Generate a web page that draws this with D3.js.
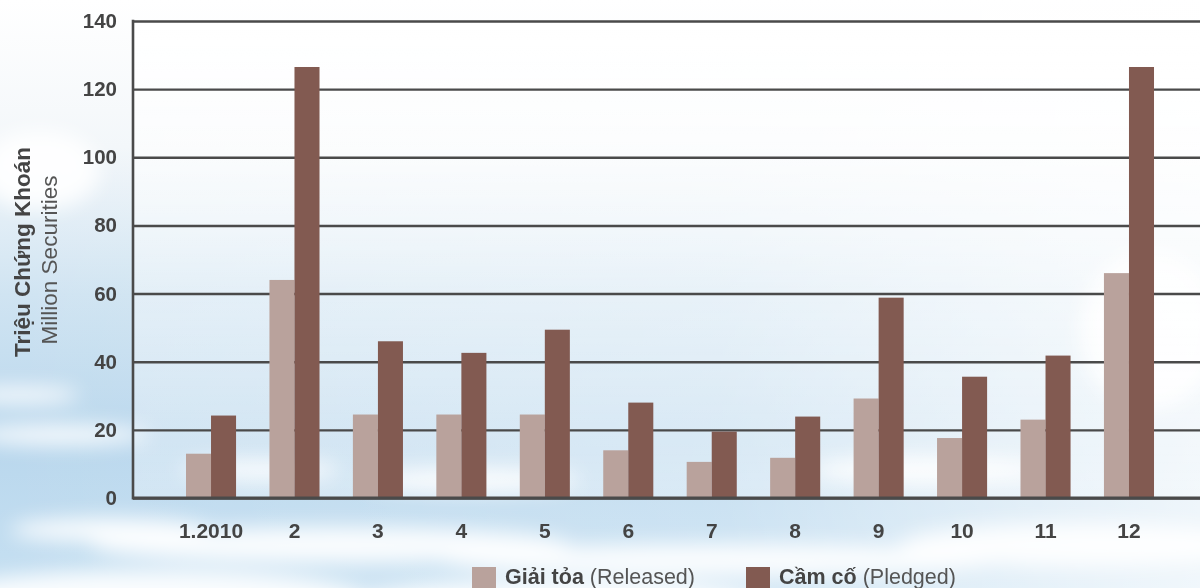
<!DOCTYPE html>
<html><head><meta charset="utf-8">
<script src="https://cdn.jsdelivr.net/npm/d3@7"></script>
<style>html,body{margin:0;padding:0;overflow:hidden;background:#fff}</style>
</head><body>
<svg id="c" width="1200" height="588"></svg>
<script>
const months = ["1.2010","2","3","4","5","6","7","8","9","10","11","12"];
const released = [13, 64, 24.5, 24.5, 24.5, 14, 10.6, 11.8, 29.2, 17.6, 23, 66];
const pledged = [24.2, 126.5, 46, 42.6, 49.4, 28, 19.5, 23.9, 58.8, 35.6, 41.8, 126.5];
const yTicks = [0, 20, 40, 60, 80, 100, 120, 140];
const seriesNames = [["Giải tỏa", " (Released)"], ["Cầm cố", " (Pledged)"]];
const colors = ["#b9a29c", "#825a51"];

const svg = d3.select("#c");
const W = 1200, H = 588;
const font = "'Liberation Sans', Arial, sans-serif";

// background sky
const defs = svg.append("defs");
const sky = defs.append("linearGradient").attr("id","sky").attr("x1",0).attr("y1",0).attr("x2",0).attr("y2",1);
sky.append("stop").attr("offset","0%").attr("stop-color","#ffffff");
sky.append("stop").attr("offset","25%").attr("stop-color","#f3f7fa");
sky.append("stop").attr("offset","50%").attr("stop-color","#d0e4f2");
sky.append("stop").attr("offset","75%").attr("stop-color","#b9d7ed");
sky.append("stop").attr("offset","100%").attr("stop-color","#c6e0f2");
const blur = defs.append("filter").attr("id","blur").attr("x","-50%").attr("y","-50%").attr("width","200%").attr("height","200%");
blur.append("feGaussianBlur").attr("stdDeviation", 10);
const rightFade = defs.append("linearGradient").attr("id","rf").attr("x1",0).attr("y1",0).attr("x2",1).attr("y2",0);
rightFade.append("stop").attr("offset","0%").attr("stop-color","#fff").attr("stop-opacity",0);
rightFade.append("stop").attr("offset","60%").attr("stop-color","#fff").attr("stop-opacity",0.2);
rightFade.append("stop").attr("offset","100%").attr("stop-color","#fff").attr("stop-opacity",0.75);
svg.append("rect").attr("width",W).attr("height",H).attr("fill","url(#sky)");
svg.append("rect").attr("width",W).attr("height",H).attr("fill","url(#rf)");
const clouds = [[60,435,90,10],[20,395,60,8],[330,545,240,18],[720,560,280,16],[1080,545,180,22],[150,600,220,30],[560,600,200,20],[930,470,120,14],[470,480,110,12],[1150,330,70,80],[40,170,60,40],[260,470,80,10],[110,530,100,12]];
svg.append("g").attr("filter","url(#blur)").selectAll("ellipse").data(clouds).join("ellipse")
  .attr("cx",d=>d[0]).attr("cy",d=>d[1]).attr("rx",d=>d[2]).attr("ry",d=>d[3])
  .attr("fill","#ffffff").attr("opacity",0.9);

const x0 = 133, x1 = 1200, yTop = 21, yBot = 498;
const y = d3.scaleLinear().domain([0,140]).range([yBot, yTop]);
const x = d3.scaleBand().domain(months).range([169.3, 1170.7]).paddingInner(0.4).paddingOuter(0.2);
const xs = d3.scaleBand().domain([0,1]).range([0, x.bandwidth()]);

// plot area light wash
const wash = defs.append("linearGradient").attr("id","wash").attr("x1",0).attr("y1",0).attr("x2",0).attr("y2",1);
wash.append("stop").attr("offset","0%").attr("stop-color","#fff").attr("stop-opacity",0.85);
wash.append("stop").attr("offset","55%").attr("stop-color","#fff").attr("stop-opacity",0.4);
wash.append("stop").attr("offset","100%").attr("stop-color","#fff").attr("stop-opacity",0.3);
svg.append("rect").attr("x",x0).attr("y",yTop).attr("width",x1-x0).attr("height",yBot-yTop)
  .attr("fill","url(#wash)");

// grid lines
const yAxis = d3.axisLeft(y).tickValues(yTicks).tickSize(-(x1-x0)).tickPadding(16).tickFormat(d3.format("d"));
const ga = svg.append("g").attr("transform",`translate(${x0},0)`).call(yAxis);
ga.select(".domain").remove();
ga.selectAll(".tick line").attr("stroke","#4a4a4a").attr("stroke-width",2.4);
ga.selectAll(".tick text").attr("fill","#444").attr("font-family",font).attr("font-weight","bold").attr("font-size",20.5);

// bars
const groups = svg.append("g").selectAll("g").data(months).join("g")
  .attr("transform",d=>`translate(${x(d)},0)`);
groups.selectAll("rect").data((d,i)=>[released[i], pledged[i]]).join("rect")
  .attr("x",(d,j)=>xs(j)).attr("width",xs.bandwidth())
  .attr("y",d=>y(d)).attr("height",d=>yBot-y(d))
  .attr("fill",(d,j)=>colors[j]);

// axes lines
svg.append("line").attr("x1",x0).attr("x2",x0).attr("y1",yTop-1.3).attr("y2",yBot+1.5).attr("stroke","#4a4a4a").attr("stroke-width",2.6);
svg.append("line").attr("x1",x0).attr("x2",x1).attr("y1",yBot).attr("y2",yBot).attr("stroke","#4a4a4a").attr("stroke-width",2.8);

// x labels
const xAxis = d3.axisBottom(x).tickSize(0).tickPadding(25);
const gx = svg.append("g").attr("transform",`translate(0,${yBot})`).call(xAxis);
gx.select(".domain").remove();
gx.selectAll(".tick text").attr("fill","#444").attr("font-family",font).attr("font-weight","bold").attr("font-size",21);

// y title
svg.append("text").attr("transform","translate(29.5,252) rotate(-90)").attr("text-anchor","middle")
  .attr("font-family",font).attr("font-weight","bold").attr("font-size",22.5).attr("fill","#444").text("Triệu Chứng Khoán");
svg.append("text").attr("transform","translate(57,260) rotate(-90)").attr("text-anchor","middle")
  .attr("font-family",font).attr("font-size",22.5).attr("fill","#555").text("Million Securities");

// legend
const legX = [472, 746];
const lg = svg.append("g").selectAll("g").data(seriesNames).join("g")
  .attr("transform",(d,i)=>`translate(${legX[i]},567)`);
lg.append("rect").attr("width",24).attr("height",21).attr("fill",(d,i)=>colors[i]);
const lt = lg.append("text").attr("x",33).attr("y",16.5).attr("font-family",font).attr("font-size",21.5).attr("fill","#444");
lt.append("tspan").attr("font-weight","bold").text(d=>d[0]);
lt.append("tspan").attr("fill","#555").text(d=>d[1]);
</script>
</body></html>
